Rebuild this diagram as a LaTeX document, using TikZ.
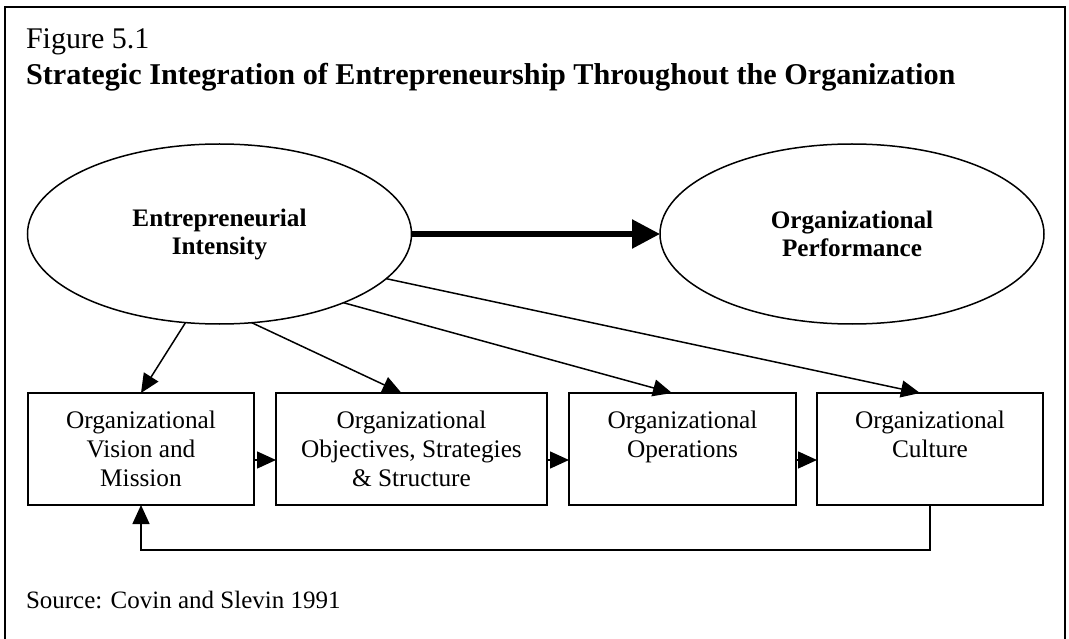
\documentclass[tikz,border=0pt]{standalone}
\usepackage{fontspec}
\setmainfont{Liberation Serif}
\usetikzlibrary{shapes.geometric,arrows.meta}
\begin{document}
\begin{tikzpicture}[x=1pt,y=-1pt,
  every node/.style={inner sep=0pt, outer sep=0pt},
  ell/.style={draw, line width=1.5pt, ellipse, minimum width=384pt, minimum height=180pt,
    align=center, font=\bfseries\fontsize{25.2}{28}\selectfont},
  orgbox/.style={draw, line width=1.5pt, minimum width=#1, minimum height=112pt},
  boxtext/.style={anchor=north, align=center, font=\fontsize{25.3}{29}\selectfont},
  arr/.style={line width=1.5pt, -{Triangle[length=19pt,width=17pt]}},
  thickarr/.style={line width=5.5pt, -{Triangle[length=28pt,width=28pt]}},
  frameline/.style={line width=1.8pt}
]
\useasboundingbox (0,0) rectangle (1069,639);
% page frame
\coordinate (f1) at (4,7);
\coordinate (f2) at (1065,7);
\coordinate (f3) at (5,639);
\coordinate (f4) at (1065,639);
\draw[frameline] (f3) -- (5,7) -- (f2) -- (f4);

% titles
\node[anchor=base west, font=\fontsize{30}{35}\selectfont] (fig) at (26,49) {Figure 5.1};
\node[anchor=base west, font=\bfseries\fontsize{30.2}{35}\selectfont] (title) at (26,84.5)
  {Strategic Integration of Entrepreneurship Throughout the Organization};

% ellipses
\node[ell] (ei) at (219.5,234) {Entrepreneurial\\Intensity};
\node[ell] (eo) at (852,234) {Organizational\\Performance};

% boxes
\node[orgbox=226pt] (b1) at (141,449) {};
\node[orgbox=271pt] (b2) at (411.5,449) {};
\node[orgbox=227pt] (b3) at (682.5,449) {};
\node[orgbox=226pt] (b4) at (930,449) {};

\node[boxtext] (t1) at ([yshift=-18pt]b1.north) {Organizational\\Vision and\\Mission};
\node[boxtext] (t2) at ([yshift=-18pt]b2.north) {Organizational\\Objectives, Strategies\\\& Structure};
\node[boxtext] (t3) at ([yshift=-18pt]b3.north) {Organizational\\Operations};
\node[boxtext] (t4) at ([yshift=-18pt]b4.north) {Organizational\\Culture};

% connectors
\draw[thickarr] (ei.east) -- (eo.west);
\draw[arr] (ei.249.4) -- (b1.north);
\draw[arr] (ei.290.6) -- ([xshift=-10pt]b2.north);
\draw[arr] (ei.331.4) -- ([xshift=-10.5pt]b3.north);
\draw[arr] (ei.345) -- ([xshift=-10pt]b4.north);

\draw[arr] ([yshift=-11pt]b1.east) -- ([yshift=-11pt]b2.west);
\draw[arr] ([yshift=-11pt]b2.east) -- ([yshift=-11pt]b3.west);
\draw[arr] ([yshift=-11pt]b3.east) -- ([yshift=-11pt]b4.west);

\draw[arr] (b4.south) -- ++(0,45) -| (b1.south);

% source
\node[anchor=base west, font=\fontsize{25}{29}\selectfont] (src) at (26,608) {Source: Covin and Slevin 1991};
\end{tikzpicture}
\end{document}
